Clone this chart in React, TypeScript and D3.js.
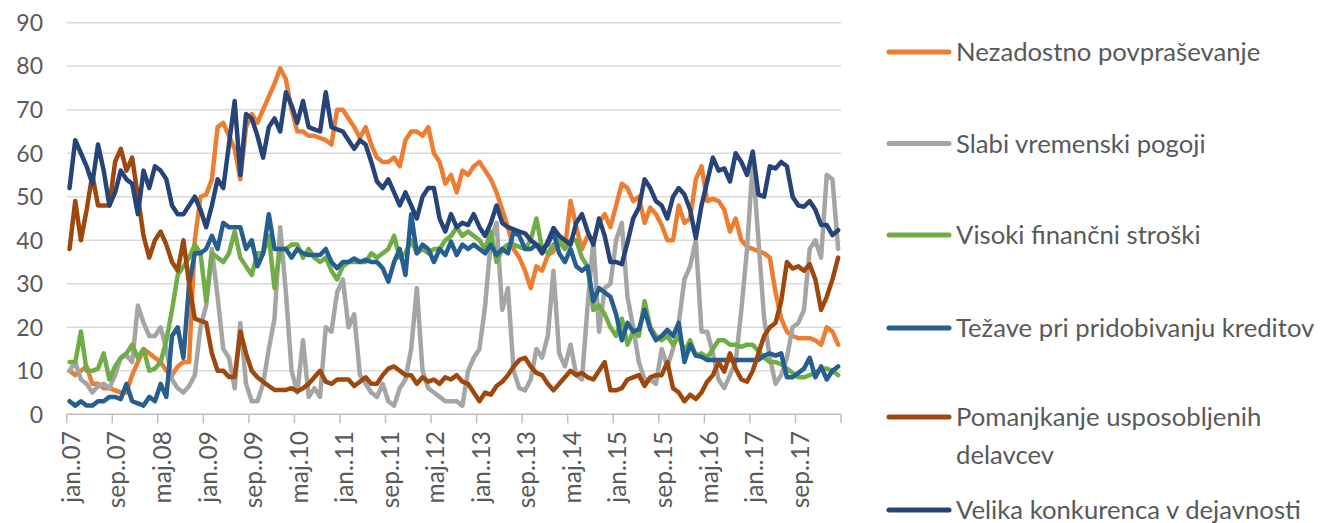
import * as d3 from "d3";
import React from "react";

// x-axis labels, one every 8 months (jan 2007 .. apr 2018 = 136 months)
const tickLabels = [
  "jan..07", "sep..07", "maj.08", "jan..09", "sep..09", "maj.10",
  "jan..11", "sep..11", "maj.12", "jan..13", "sep..13", "maj.14",
  "jan..15", "sep..15", "maj.16", "jan..17", "sep..17",
];
const yTicks = [0, 10, 20, 30, 40, 50, 60, 70, 80, 90];

const nezadostno = [
  10, 9, 10, 11, 7, 7, 6, 6,
  5.5, 5, 5, 9, 12, 15, 14, 13,
  12, 10, 9, 11, 12, 12, 40, 50,
  50.5, 54, 66, 67, 64, 61, 54, 66,
  69, 67, 70, 73, 76, 79.5, 77, 70,
  65, 65, 64, 64, 63.5, 63, 62, 70,
  70, 68, 66, 63.5, 66, 62, 59, 58,
  58, 59, 57, 63, 65, 65, 64, 66,
  60, 58, 53, 55, 51, 56, 55, 57,
  58, 56, 54, 51, 47, 43, 38, 36,
  33, 29, 34, 33, 36.5, 37.5, 39.5, 38,
  49, 43, 38, 41, 40, 44, 46, 43,
  48, 53, 52, 49, 50, 44, 47.5, 46,
  43.5, 40, 40, 48, 44, 45, 54, 57,
  49, 49.5, 49, 47, 42, 45, 40, 38.5,
  38, 37.5, 37, 36, 28, 22, 19, 18,
  17.5, 17.5, 17.5, 17, 16, 20, 19, 16,
];

const vreme = [
  10, 12, 8, 7, 5, 6.5, 7, 6,
  9, 13, 13.5, 12, 25, 21, 18, 18,
  20, 15, 8, 6, 5, 6.5, 9, 20,
  25, 38, 27, 15, 13, 6, 21, 7,
  3, 3, 7, 15, 22, 43, 28, 10,
  5, 17, 4, 6, 4, 20, 19, 28,
  31, 20, 23, 9, 7, 5, 4, 7,
  3, 2, 6, 8, 15, 29, 10, 6,
  5, 4, 3, 3, 3, 2, 10, 13,
  15, 25, 40, 44, 24, 29, 10, 6,
  5.5, 8, 15, 13, 18, 33, 14, 11,
  16, 9, 8, 25, 40, 19, 29, 30,
  40, 44, 27, 20, 12, 8, 8, 7,
  15, 11, 15, 21, 31, 34, 40, 19,
  19, 14, 8, 6, 9, 12, 24, 38,
  58, 40, 22, 13, 7, 9, 13, 20,
  21, 24, 38, 40, 36, 55, 54, 38,
];

const financni = [
  12, 12, 19, 10, 10, 10.5, 14, 8,
  11, 13, 14, 16, 13, 15, 10, 10.5,
  12, 17, 24, 32, 34, 36, 39, 37,
  26, 37, 36, 35, 37, 42, 36, 34,
  32, 37, 37, 41, 29, 38, 38, 39,
  39, 36, 38, 36, 35, 36, 33, 31,
  34, 35, 35, 35, 35, 37, 36, 37,
  38, 41, 36, 37, 40, 37, 38, 37,
  38, 38, 40, 41, 43, 41, 42, 41,
  40, 38, 42, 35, 38, 39, 39, 38.5,
  38, 40, 45, 38, 37, 39, 40, 38,
  40, 40, 36, 34, 24, 25, 23, 20,
  18, 22, 16, 19, 18, 26, 20, 18,
  17, 18, 16, 18, 14.5, 17, 13.5, 14,
  13, 15, 17, 17, 16, 16, 15.5, 16,
  16, 14.5, 13, 12, 12, 11.5, 10.5, 9.5,
  8.5, 8.5, 9, 9.5, 10.5, 10.5, 10, 9,
];

const krediti = [
  3, 2, 3, 2, 2, 3, 3, 4,
  4, 3.5, 7, 3, 2.5, 2, 4, 3,
  7, 4, 18, 20, 13, 30, 37, 37,
  38, 41, 38, 44, 43, 43, 43, 38,
  40, 34, 37, 46, 38, 38, 38, 36,
  38, 37, 36.6, 36.6, 36.6, 38, 35, 33.6,
  35, 35, 35.8, 35, 35.5, 35, 35, 33.6,
  30.5, 35, 38, 32, 46, 37, 39, 38,
  35, 38, 36.6, 39.7, 36.6, 39, 38, 39,
  38, 37, 39, 36.6, 38, 37, 42, 41,
  38, 38, 39, 38, 39, 42, 37, 35,
  38, 34, 33, 34, 26, 29, 28, 27,
  23, 17, 21, 19, 19.5, 24, 19.5, 17,
  18, 19.4, 18, 21, 12, 16, 13.5, 13.2,
  12.5, 12.5, 12.5, 12.5, 12.5, 12.5, 12.5, 12.5,
  12.5, 12.5, 13.5, 14, 13.5, 14, 8.5, 8.5,
  9.5, 10.5, 13, 8.5, 11, 8, 10, 11,
];

const delavci = [
  38, 49, 40, 47, 55, 48, 48, 48,
  58, 61, 56, 59, 50, 41, 36, 40,
  42, 39, 35, 33, 40, 30, 22, 21.5,
  21, 14, 10, 10, 8.6, 8.6, 19, 14,
  10, 8.5, 7.5, 6.5, 5.6, 5.6, 5.6, 6,
  5.3, 6, 7, 8.5, 10, 7.5, 7, 8,
  8, 8, 6.5, 7.5, 8.5, 7, 7, 9,
  10.5, 11, 10, 9, 9, 7, 8.5, 7.5,
  8, 7, 8.5, 8, 9, 7.5, 7, 5,
  3, 5, 4.5, 6.5, 7.5, 9, 11, 12.5,
  13, 11, 9.5, 9, 7, 5.5, 7, 8.5,
  10, 9, 9.5, 8.5, 8, 10, 12, 5.5,
  5.5, 6, 8, 8.5, 9, 6.5, 8.5, 9,
  9, 12, 6, 5, 3, 4.5, 3.5, 5,
  7.5, 9, 12, 9.8, 14, 10.5, 8, 7.5,
  10, 14, 18, 20, 21, 26, 35, 33.5,
  34, 33, 34.5, 31, 24, 27, 31, 36,
];

const konkurenca = [
  52, 63, 60, 57, 53, 62, 56, 48,
  51, 56, 54, 53, 46, 56, 52, 57,
  56, 54, 48, 46, 46, 48, 50, 47,
  43, 48, 54, 52, 62, 72, 55, 69,
  68, 64, 59, 66, 68, 65, 74, 71,
  67, 72, 66, 65.5, 65, 74, 66, 65.5,
  65, 63, 61, 63, 62, 58, 53.5, 52,
  54, 51, 48, 51, 48, 45, 50, 52,
  52, 45, 42, 46, 43, 44, 43.5, 46,
  43, 41, 44, 48, 44, 43, 42.5, 42,
  41.6, 40, 39, 37, 39.7, 42.8, 41, 40,
  39, 44, 46, 42, 39, 45, 41, 35,
  35, 34.5, 39.5, 45, 47.5, 54, 52, 49,
  48, 45, 50, 52, 50.5, 47, 40.5, 48,
  53.5, 59, 56, 56.5, 53.5, 60, 58, 55,
  60.4, 50.5, 50, 57, 56.5, 58, 57, 50,
  48, 47.7, 49, 47, 43.5, 43.5, 41.2, 42.3,
];

const names = [
  ["Nezadostno povpraševanje"],
  ["Slabi vremenski pogoji"],
  ["Visoki finančni stroški"],
  ["Težave pri pridobivanju kreditov"],
  ["Pomanjkanje usposobljenih", "delavcev"],
  ["Velika konkurenca v dejavnosti"],
];
const colors = ["#ED7D31", "#A5A5A5", "#70AD47", "#255E91", "#9E480E", "#264478"];
const seriesValues = [nezadostno, vreme, financni, krediti, delavci, konkurenca];
const legendY = [52, 143.5, 235, 328, 417, 510];

const FONT = "Lato, 'Open Sans', sans-serif";
const left = 66.7, right = 841, top = 22.7, bottom = 414.3;

export default function App() {
  const n = nezadostno.length;
  const x = d3.scaleBand<number>().domain(d3.range(n)).range([left, right]).padding(0);
  const y = d3.scaleLinear().domain([0, 90]).range([bottom, top]);
  const cx = (i: number) => (x(i) as number) + x.bandwidth() / 2;
  const line = d3.line<number>().x((_, i) => cx(i)).y((d) => y(d));

  const tickXs = d3.range(0, n + 1, 8).map((i) => (i < n ? (x(i) as number) : right));

  return (
    <svg width={1322} height={523} style={{ position: "absolute", left: 0, top: 0, background: "#fff" }}>
      {yTicks.map((t) => (
        <g key={t}>
          {t > 0 && <line x1={left} x2={right} y1={y(t)} y2={y(t)} stroke="#d9d9d9" strokeWidth={1.5} />}
          <text x={43} y={y(t)} dy="0.36em" textAnchor="end" fontFamily={FONT} fontSize={23} fill="#595959">
            {t}
          </text>
        </g>
      ))}
      <line x1={left} x2={right} y1={bottom} y2={bottom} stroke="#bfbfbf" strokeWidth={1.5} />
      {tickXs.map((tx, k) => (
        <line key={k} x1={tx} x2={tx} y1={bottom} y2={bottom + 9} stroke="#bfbfbf" strokeWidth={1.5} />
      ))}
      {tickLabels.map((lab, k) => {
        const tx = cx(k * 8) + 1.5;
        return (
          <text key={lab} transform={`translate(${tx},${431}) rotate(-90)`} dy="0.36em" textAnchor="end"
            fontFamily={FONT} fontSize={24.5} fill="#595959">
            {lab}
          </text>
        );
      })}
      {seriesValues.map((vals, s) => (
        <path key={s} d={line(vals) || ""} fill="none" stroke={colors[s]} strokeWidth={4.5}
          strokeLinejoin="round" strokeLinecap="round" />
      ))}
      {names.map((lines, s) => (
        <g key={s}>
          <line x1={889} x2={949} y1={legendY[s]} y2={legendY[s]} stroke={colors[s]} strokeWidth={5} strokeLinecap="round" />
          {lines.map((t, j) => (
            <text key={j} x={956} y={legendY[s] + j * 38} dy="0.36em" fontFamily={FONT} fontSize={25.7} fill="#595959">
              {t}
            </text>
          ))}
        </g>
      ))}
    </svg>
  );
}
